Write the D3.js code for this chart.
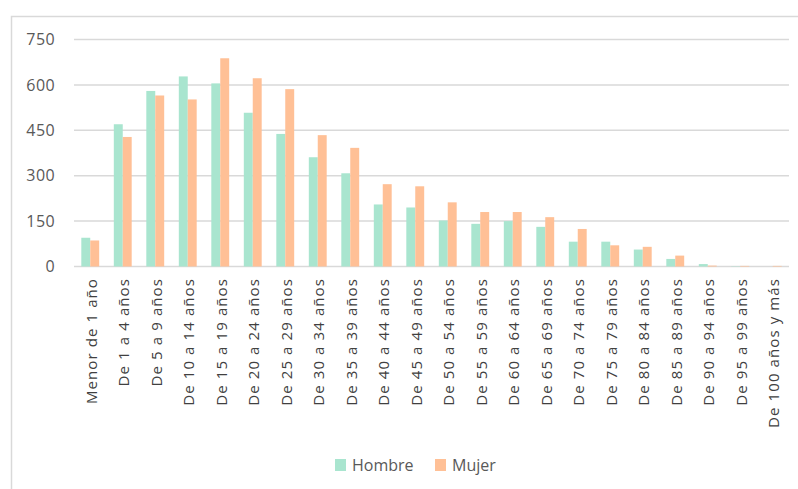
<!DOCTYPE html>
<html>
<head>
<meta charset="utf-8">
<script src="https://cdn.jsdelivr.net/npm/d3@7"></script>
<style>
  body { margin: 0; background: #fff; }
  svg { display: block; font-family: "Open Sans", sans-serif; }
</style>
</head>
<body>
<div id="chart"></div>
<script>
// age groups and counts per sex
const categories = ["Menor de 1 año", "De 1 a 4 años", "De 5 a 9 años", "De 10 a 14 años",
  "De 15 a 19 años", "De 20 a 24 años", "De 25 a 29 años", "De 30 a 34 años",
  "De 35 a 39 años", "De 40 a 44 años", "De 45 a 49 años", "De 50 a 54 años",
  "De 55 a 59 años", "De 60 a 64 años", "De 65 a 69 años", "De 70 a 74 años",
  "De 75 a 79 años", "De 80 a 84 años", "De 85 a 89 años", "De 90 a 94 años",
  "De 95 a 99 años", "De 100 años y más"];
const hombre = [95, 470, 580, 628, 605, 508, 438, 361, 308, 205, 195, 152, 141, 150, 131, 82, 82, 56, 25, 8, 1, 0];
const mujer = [86, 428, 565, 552, 688, 622, 586, 434, 392, 272, 265, 212, 180, 180, 163, 124, 70, 65, 36, 3, 2, 2];
const series = ["Hombre", "Mujer"];
const colors = ["#a9e5cf", "#ffc096"];
const yTicks = [0, 150, 300, 450, 600, 750];

const width = 798, height = 489;
const margin = { left: 74, right: 9, top: 39.5, bottom: 222.5 };

const svg = d3.select("#chart").append("svg")
  .attr("width", width)
  .attr("height", height);

// outer frame (only top and left edges are in view)
svg.append("path")
  .attr("d", "M11.5," + height + "V16.5H" + width)
  .attr("fill", "none")
  .attr("stroke", "#d9d9d9")
  .attr("stroke-width", 1.5);

const x = d3.scaleBand()
  .domain(categories)
  .range([margin.left, width - margin.right])
  .paddingInner(0.45)
  .paddingOuter(0.225);

const x1 = d3.scaleBand()
  .domain(series)
  .range([0, x.bandwidth()]);

const y = d3.scaleLinear()
  .domain([0, 750])
  .range([height - margin.bottom, margin.top]);

// gridlines
svg.append("g")
  .selectAll("line")
  .data(yTicks)
  .enter()
  .append("line")
  .attr("x1", margin.left)
  .attr("x2", width - margin.right)
  .attr("y1", (d) => y(d))
  .attr("y2", (d) => y(d))
  .attr("stroke", "#d9d9d9")
  .attr("stroke-width", 1.5);

// y tick labels
svg.append("g")
  .selectAll("text")
  .data(yTicks)
  .enter()
  .append("text")
  .attr("x", 55)
  .attr("y", (d) => y(d))
  .attr("dy", "0.35em")
  .attr("text-anchor", "end")
  .style("font-size", "16px")
  .style("letter-spacing", "0.4px")
  .style("fill", "#595959")
  .text((d) => d);

// bars
const data = categories.map((c, i) => ({ cat: c, Hombre: hombre[i], Mujer: mujer[i] }));

const groups = svg.append("g")
  .selectAll("g")
  .data(data)
  .enter()
  .append("g")
  .attr("transform", (d) => "translate(" + x(d.cat) + ",0)");

groups.selectAll("rect")
  .data((d) => series.map((s) => ({ key: s, value: d[s] })))
  .enter()
  .append("rect")
  .attr("x", (d) => x1(d.key))
  .attr("y", (d) => y(d.value))
  .attr("width", x1.bandwidth())
  .attr("height", (d) => y(0) - y(d.value))
  .attr("fill", (d, i) => colors[i]);

// category labels, rotated
svg.append("g")
  .selectAll("text")
  .data(categories)
  .enter()
  .append("text")
  .attr("transform", (d) => "translate(" + (x(d) + x.bandwidth() / 2 + 1) + ",278) rotate(-90)")
  .attr("dy", "0.35em")
  .attr("text-anchor", "end")
  .style("font-size", "15px")
  .style("letter-spacing", "1.1px")
  .style("fill", "#404040")
  .text((d) => d);

// legend
const legend = svg.append("g");
const legendX = [335, 435];
series.forEach((s, i) => {
  legend.append("rect")
    .attr("x", legendX[i])
    .attr("y", 459)
    .attr("width", 11)
    .attr("height", 12)
    .attr("fill", colors[i]);
  legend.append("text")
    .attr("x", legendX[i] + 17)
    .attr("y", 465)
    .attr("dy", "0.35em")
    .style("font-size", "16px")
    .style("fill", "#595959")
    .text(s);
});
</script>
</body>
</html>
